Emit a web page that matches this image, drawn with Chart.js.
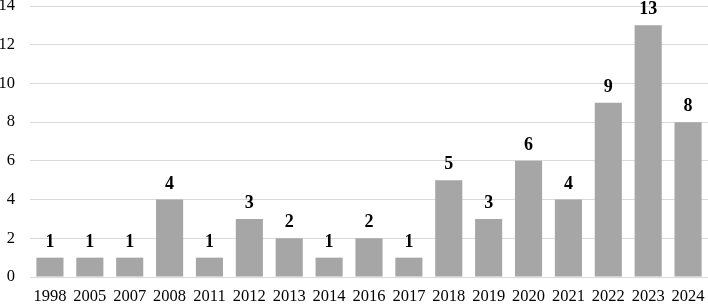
<!DOCTYPE html>
<html>
<head>
<meta charset="utf-8">
<script src="https://cdn.jsdelivr.net/npm/chart.js@4"></script>
<style>
  html, body { margin: 0; padding: 0; background: #fff; }
  #wrap { width: 708px; height: 304px; }
</style>
</head>
<body>
<div id="wrap"><canvas id="chart"></canvas></div>
<script>
const years = ['1998','2005','2007','2008','2011','2012','2013','2014','2016','2017','2018','2019','2020','2021','2022','2023','2024'];
const counts = [1, 1, 1, 4, 1, 3, 2, 1, 2, 1, 5, 3, 6, 4, 9, 13, 8];
const yTicks = [0, 2, 4, 6, 8, 10, 12, 14];

const serif = '"Liberation Serif", "Times New Roman", serif';

// value labels above each bar
const valueLabels = {
  id: 'valueLabels',
  afterDatasetsDraw(chart) {
    const ctx = chart.ctx;
    const meta = chart.getDatasetMeta(0);
    ctx.save();
    ctx.font = 'bold 18px ' + serif;
    ctx.fillStyle = '#000';
    ctx.textAlign = 'center';
    ctx.textBaseline = 'alphabetic';
    meta.data.forEach((bar, i) => {
      ctx.fillText(String(counts[i]), bar.x, bar.y - 11);
    });
    ctx.restore();
  }
};

new Chart(document.getElementById('chart'), {
  type: 'bar',
  data: {
    labels: years,
    datasets: [{
      data: counts,
      backgroundColor: '#a6a6a6',
      barPercentage: 0.68,
      categoryPercentage: 1
    }]
  },
  options: {
    responsive: true,
    maintainAspectRatio: false,
    animation: false,
    layout: { padding: 0 },
    plugins: { legend: { display: false }, tooltip: { enabled: false } },
    scales: {
      x: {
        grid: { display: false, drawTicks: false },
        border: { display: true, color: '#d9d9d9', width: 1 },
        ticks: { color: '#000', font: { family: serif, size: 16.5 }, padding: 10, maxRotation: 0, autoSkip: false },
        afterFit(axis) { axis.height = 27; axis.paddingLeft = 0; axis.paddingRight = 0; }
      },
      y: {
        min: 0, max: 14,
        afterBuildTicks(axis) { axis.ticks = yTicks.map(v => ({ value: v })); },
        grid: { color: '#d9d9d9', drawTicks: false },
        border: { display: false },
        ticks: { color: '#000', font: { family: serif, size: 16.5 }, padding: 15 },
        afterFit(axis) { axis.width = 30; axis.paddingTop = 6; axis.paddingBottom = 0; }
      }
    }
  },
  plugins: [valueLabels]
});
</script>
</body>
</html>
